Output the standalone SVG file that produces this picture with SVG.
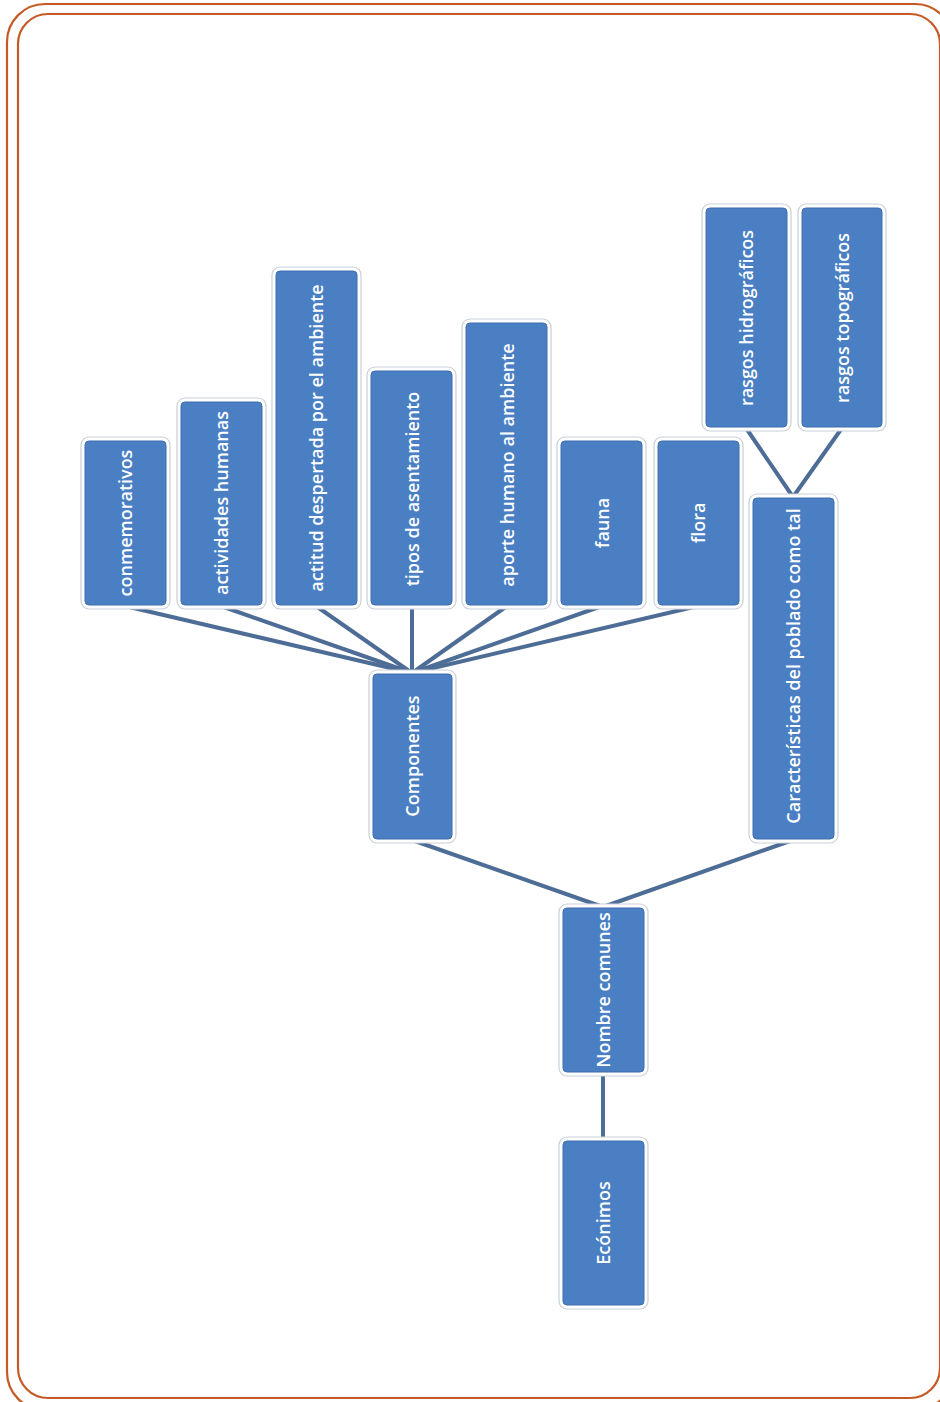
<svg xmlns="http://www.w3.org/2000/svg" width="940" height="1402" viewBox="0 0 940 1402">
  <style>
    .frame { fill: none; stroke: #C65A24; stroke-width: 2.2; }
    .halo { fill: #FFFFFF; stroke: #C9D0DA; stroke-width: 1.2; }
    .box { fill: #4A7FC4; stroke: #3F6FAD; stroke-width: 1; }
    .lbl { fill: #FFFFFF; font-family: "Open Sans", "Liberation Sans", sans-serif; font-weight: 600; font-size: 18px; text-anchor: middle; dominant-baseline: central; }
    .edge { fill: none; stroke: #4E6D96; stroke-width: 4; stroke-linecap: round; }
  </style>

  <!-- double rounded page frame -->
  <rect class="frame" x="7" y="4" width="946" height="1406" rx="38"/>
  <rect class="frame" x="18" y="14" width="922" height="1384" rx="30"/>

  <!-- connectors -->
  <g id="connectors">
    <line class="edge" x1="603" y1="1140" x2="603" y2="1073"/>
    <line class="edge" x1="603" y1="907" x2="412" y2="840"/>
    <line class="edge" x1="603" y1="907" x2="793" y2="840"/>
    <line class="edge" x1="412" y1="673" x2="125" y2="606"/>
    <line class="edge" x1="412" y1="673" x2="221" y2="606"/>
    <line class="edge" x1="412" y1="673" x2="316" y2="606"/>
    <line class="edge" x1="412" y1="673" x2="412" y2="606"/>
    <line class="edge" x1="412" y1="673" x2="507" y2="606"/>
    <line class="edge" x1="412" y1="673" x2="602" y2="606"/>
    <line class="edge" x1="412" y1="673" x2="698" y2="606"/>
    <line class="edge" x1="793" y1="497" x2="746" y2="428"/>
    <line class="edge" x1="793" y1="497" x2="842" y2="428"/>
  </g>

  <!-- nodes: boxes with vertical labels reading bottom to top -->
  <g id="econimos">
    <rect class="halo" x="559" y="1137" width="89" height="172" rx="8"/>
    <rect class="box" x="563" y="1141" width="81" height="164" rx="4"/>
    <text class="lbl" transform="translate(603,1223) rotate(-90)">Ecónimos</text>
  </g>
  <g id="nombre-comunes">
    <rect class="halo" x="559" y="904" width="89" height="172" rx="8"/>
    <rect class="box" x="563" y="908" width="81" height="164" rx="4"/>
    <text class="lbl" transform="translate(603,990) rotate(-90)">Nombre comunes</text>
  </g>
  <g id="componentes">
    <rect class="halo" x="369" y="670" width="87" height="173" rx="8"/>
    <rect class="box" x="373" y="674" width="79" height="165" rx="4"/>
    <text class="lbl" transform="translate(412,756) rotate(-90)">Componentes</text>
  </g>
  <g id="caracteristicas">
    <rect class="halo" x="749" y="494" width="89" height="349" rx="8"/>
    <rect class="box" x="753" y="498" width="81" height="341" rx="4"/>
    <text class="lbl" transform="translate(793,666) rotate(-90)">Características del poblado como tal</text>
  </g>
  <g id="conmemorativos">
    <rect class="halo" x="81" y="437" width="89" height="172" rx="8"/>
    <rect class="box" x="85" y="441" width="81" height="164" rx="4"/>
    <text class="lbl" transform="translate(125,523) rotate(-90)">conmemorativos</text>
  </g>
  <g id="actividades-humanas">
    <rect class="halo" x="177" y="398" width="89" height="211" rx="8"/>
    <rect class="box" x="181" y="402" width="81" height="203" rx="4"/>
    <text class="lbl" transform="translate(221,503) rotate(-90)">actividades humanas</text>
  </g>
  <g id="actitud-despertada">
    <rect class="halo" x="272" y="267" width="89" height="342" rx="8"/>
    <rect class="box" x="276" y="271" width="81" height="334" rx="4"/>
    <text class="lbl" transform="translate(316,438) rotate(-90)">actitud despertada por el ambiente</text>
  </g>
  <g id="tipos-asentamiento">
    <rect class="halo" x="367" y="367" width="89" height="242" rx="8"/>
    <rect class="box" x="371" y="371" width="81" height="234" rx="4"/>
    <text class="lbl" transform="translate(412,489) rotate(-90)">tipos de asentamiento</text>
  </g>
  <g id="aporte-humano">
    <rect class="halo" x="462" y="319" width="89" height="290" rx="8"/>
    <rect class="box" x="466" y="323" width="81" height="282" rx="4"/>
    <text class="lbl" transform="translate(507,465) rotate(-90)">aporte humano al ambiente</text>
  </g>
  <g id="fauna">
    <rect class="halo" x="557" y="437" width="89" height="172" rx="8"/>
    <rect class="box" x="561" y="441" width="81" height="164" rx="4"/>
    <text class="lbl" transform="translate(602,523) rotate(-90)">fauna</text>
  </g>
  <g id="flora">
    <rect class="halo" x="654" y="437" width="89" height="172" rx="8"/>
    <rect class="box" x="658" y="441" width="81" height="164" rx="4"/>
    <text class="lbl" transform="translate(698,523) rotate(-90)">flora</text>
  </g>
  <g id="rasgos-hidrograficos">
    <rect class="halo" x="702" y="204" width="89" height="227" rx="8"/>
    <rect class="box" x="706" y="208" width="81" height="219" rx="4"/>
    <text class="lbl" transform="translate(746,318) rotate(-90)">rasgos hidrográficos</text>
  </g>
  <g id="rasgos-topograficos">
    <rect class="halo" x="798" y="204" width="88" height="227" rx="8"/>
    <rect class="box" x="802" y="208" width="80" height="219" rx="4"/>
    <text class="lbl" transform="translate(842,318) rotate(-90)">rasgos topográficos</text>
  </g>
</svg>
